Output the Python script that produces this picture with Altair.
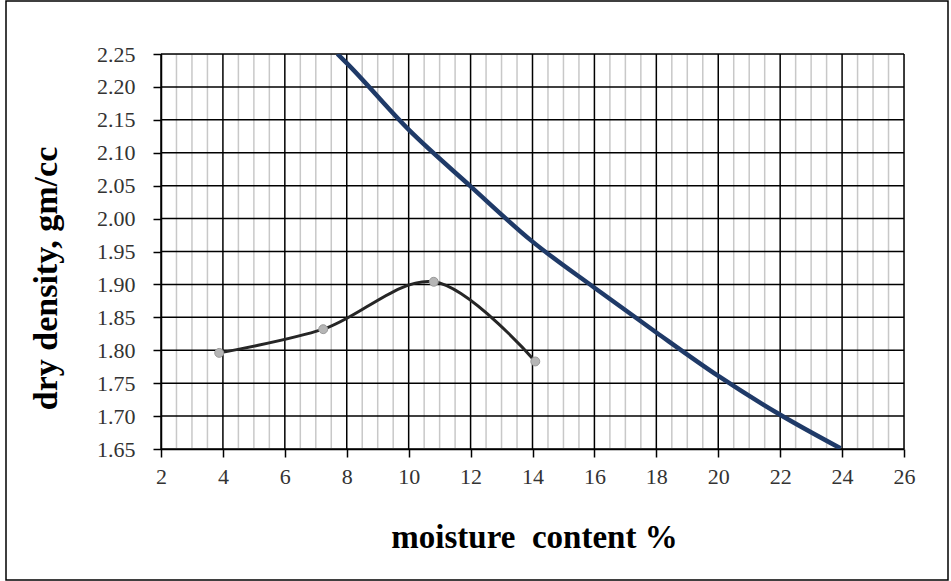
import altair as alt
import numpy as np
import pandas as pd

# ---- data ----
test_w = [3.88, 7.24, 10.81, 14.09]
test_rho = [1.796, 1.832, 1.904, 1.783]

zav_w = [7.7, 8.0, 10.0, 12.0, 14.0, 16.0, 18.0, 20.0, 22.0, 23.95]
zav_rho = [2.25, 2.236, 2.135, 2.049, 1.965, 1.895, 1.827, 1.761, 1.702, 1.651]

x_ticks = [2, 4, 6, 8, 10, 12, 14, 16, 18, 20, 22, 24, 26]
y_ticks = [1.65, 1.70, 1.75, 1.80, 1.85, 1.90, 1.95, 2.00, 2.05, 2.10, 2.15, 2.20, 2.25]
minor_x = [v for v in np.arange(2.5, 26.0, 0.5).tolist() if abs(v / 2 - round(v / 2)) > 1e-9]

FONT = "Liberation Serif"

xs = alt.Scale(domain=[2, 26], nice=False, zero=False)
ys = alt.Scale(domain=[1.65, 2.25], nice=False, zero=False)

test_df = pd.DataFrame({"w": test_w, "rho": test_rho})
zav_df = pd.DataFrame({"w": zav_w, "rho": zav_rho})

x_axis = alt.Axis(
    values=x_ticks, title="moisture\u00a0 content %", grid=False,
    labelOverlap=False, labelFlush=False, labelPadding=9,
    titleX=373, titleY=88, titleBaseline="middle", titleAlign="center",
    titleFontSize=33,
)
y_axis = alt.Axis(
    values=y_ticks, format=".2f", title="dry density, gm/cc", grid=False,
    labelOverlap=False, labelFlush=False, labelPadding=18,
    titleX=-115, titleY=224, titleBaseline="middle", titleAlign="center", titleAngle=-90,
    titleFontSize=34,
)

minor = alt.Chart(pd.DataFrame({"w": minor_x})).mark_rule(
    color="#c8c8c8", strokeWidth=1.5
).encode(x=alt.X("w:Q", scale=xs, axis=x_axis))

hgrid = alt.Chart(pd.DataFrame({"rho": y_ticks})).mark_rule(
    color="black", strokeWidth=1.5
).encode(y=alt.Y("rho:Q", scale=ys, axis=y_axis))

vgrid = alt.Chart(pd.DataFrame({"w": x_ticks})).mark_rule(
    color="black", strokeWidth=1.5
).encode(x=alt.X("w:Q", scale=xs, axis=x_axis))

zav = alt.Chart(zav_df).mark_line(
    color="#1f3a68", strokeWidth=4.5, interpolate="monotone", clip=True
).encode(x=alt.X("w:Q", scale=xs, axis=x_axis), y=alt.Y("rho:Q", scale=ys, axis=y_axis))

test_line = alt.Chart(test_df).mark_line(
    color="#262626", strokeWidth=3, interpolate="catmull-rom"
).encode(x=alt.X("w:Q", scale=xs, axis=x_axis), y=alt.Y("rho:Q", scale=ys, axis=y_axis))

test_pts = alt.Chart(test_df).mark_point(
    filled=True, fill="#b5b5b5", stroke="#9a9a9a", strokeWidth=1, size=80, opacity=1
).encode(x=alt.X("w:Q", scale=xs, axis=x_axis), y=alt.Y("rho:Q", scale=ys, axis=y_axis))

border = alt.Chart(pd.DataFrame({"a": [0]})).mark_rect(
    fillOpacity=0, stroke="black", strokeWidth=1.5, clip=False
).encode(x=alt.value(-155), x2=alt.value(787), y=alt.value(-53), y2=alt.value(526))

chart = alt.layer(minor, hgrid, vgrid, zav, test_line, test_pts, border).properties(
    width=743, height=395,
    autosize=alt.AutoSizeParams(type="none"),
    padding={"left": 161, "top": 54, "right": 47, "bottom": 132},
).configure_view(stroke=None).configure(background="white").configure_axis(
    labelFont=FONT, labelFontSize=22, labelColor="#333333",
    tickSize=8, tickColor="black", tickWidth=1.5, domainColor="black", domainWidth=1.5,
    titleFont=FONT, titleFontWeight="bold", titleColor="black",
)

chart.save("out.html", embed_options={"renderer": "svg", "actions": False})
